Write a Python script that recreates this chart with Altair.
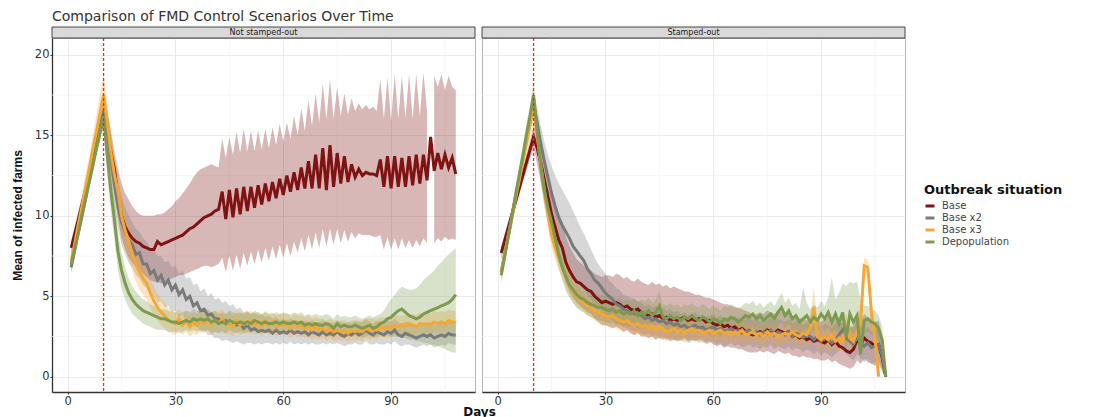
import altair as alt
import pandas as pd

SERIES = ["Base", "Base x2", "Base x3", "Depopulation"]
COLORS = ["#7f1212", "#7a7a7a", "#f5a733", "#7d9a4e"]
PANELS = ["Not stamped-out", "Stamped-out"]
X_TICKS = [0, 30, 60, 90]
X_MINOR = [15, 45, 75, 105]
Y_TICKS = [0, 5, 10, 15, 20]
Y_MINOR = [2.5, 7.5, 12.5, 17.5]
CUTOFF_DAY = [10]

# ---------------- Not stamped-out ----------------
red_L = [8.0, 8.9, 9.8, 10.7, 11.6, 12.5, 13.4, 14.4, 15.3, 16.3,
         15.2, 14.0, 12.9, 11.2, 10.0, 9.3, 8.9, 8.6, 8.4, 8.3,
         8.1, 8.0, 7.9, 7.9, 8.4, 8.2, 8.3, 8.4, 8.5, 8.6,
         8.7, 8.8, 9.0, 9.2, 9.3, 9.5, 9.7, 9.9, 10.0, 10.1,
         10.3, 10.4, 11.5, 9.8, 11.6, 9.9, 11.7, 10.1, 11.8, 10.3,
         11.8, 10.5, 11.9, 10.7, 12.0, 10.9, 12.1, 11.1, 12.3, 11.3,
         12.5, 11.5, 12.7, 11.6, 13.0, 11.7, 13.4, 11.7, 13.8, 11.7,
         14.2, 11.6, 14.4, 11.8, 13.9, 12.0, 13.7, 12.1, 13.2, 12.4,
         12.9, 12.5, 12.7, 12.6, 12.6, 12.5, 13.5, 11.8, 13.7, 11.7,
         13.7, 11.8, 13.6, 11.8, 13.7, 11.9, 13.8, 12.0, 13.8, 12.2,
         14.9, 12.8, 13.9, 12.9, 13.8, 13.0, 13.6, 12.6]
red_L_hi = [8.5, 9.4, 10.3, 11.2, 12.1, 13.0, 14.0, 15.0, 16.0, 17.0,
            16.5, 15.3, 14.0, 12.9, 12.0, 11.4, 11.0, 10.6, 10.3, 10.1,
            10.0, 10.0, 10.0, 10.0, 10.1, 10.1, 10.2, 10.4, 10.6, 10.9,
            11.1, 11.4, 11.7, 12.0, 12.4, 12.7, 12.9, 13.0, 13.1, 13.2,
            13.1, 13.0, 14.8, 13.6, 14.9, 13.8, 15.2, 13.9, 15.4, 14.0,
            15.3, 14.0, 15.3, 14.1, 15.4, 14.2, 15.5, 14.4, 15.7, 14.6,
            15.8, 14.8, 16.2, 15.0, 16.7, 15.3, 17.2, 15.6, 17.6, 15.8,
            18.2, 16.0, 18.5, 16.0, 18.0, 16.2, 17.6, 16.3, 17.3, 16.5,
            17.0, 16.6, 16.9, 16.6, 16.8, 16.5, 18.5, 16.0, 18.6, 15.9,
            18.8, 16.0, 18.7, 16.1, 18.8, 16.0, 18.8, 16.2, 18.9, 16.5,
            None, 18.7, 18.0, 18.8, 17.8, 18.7, 18.0, 17.8]
red_L_lo = [7.5, 8.4, 9.3, 10.2, 11.1, 12.0, 12.9, 13.8, 14.7, 15.6,
            14.0, 12.7, 11.5, 9.8, 8.6, 7.9, 7.4, 7.1, 6.8, 6.6,
            6.4, 6.2, 6.0, 5.9, 5.9, 5.8, 5.9, 6.0, 6.1, 6.2,
            6.3, 6.3, 6.4, 6.5, 6.6, 6.7, 6.8, 6.9, 6.9, 6.8,
            6.9, 7.0, 7.4, 6.5, 7.5, 6.6, 7.6, 6.7, 7.7, 6.9,
            7.8, 7.0, 7.9, 7.1, 8.0, 7.2, 8.1, 7.3, 8.2, 7.4,
            8.3, 7.5, 8.4, 7.7, 8.6, 7.8, 8.8, 7.9, 9.0, 8.0,
            9.2, 8.1, 9.2, 8.2, 9.2, 8.3, 9.1, 8.4, 9.0, 8.6,
            8.9, 8.8, 8.8, 8.8, 8.7, 8.7, 8.8, 7.9, 8.7, 7.9,
            8.6, 7.9, 8.6, 8.0, 8.5, 8.0, 8.5, 8.1, 8.6, 8.3,
            None, 8.3, 8.6, 8.4, 8.7, 8.5, 8.6, 8.5]

gray_L = [6.8, 7.9, 9.0, 10.0, 11.1, 12.2, 13.3, 14.3, 15.4, 16.5,
          15.3, 13.6, 12.0, 10.6, 9.6, 9.0, 8.5, 8.2, 7.6, 7.7,
          7.0, 7.0, 6.4, 6.6, 6.0, 6.3, 5.7, 6.0, 5.4, 5.7,
          5.1, 5.4, 4.8, 5.0, 4.4, 4.6, 4.1, 4.2, 3.8, 3.9,
          3.6, 3.6, 3.4, 3.5, 3.3, 3.3, 3.2, 3.3, 3.0, 3.2,
          2.9, 3.0, 2.8, 2.9, 2.8, 2.9, 2.7, 2.9, 2.7, 2.8,
          2.7, 2.9, 2.7, 2.8, 2.7, 2.8, 2.6, 2.8, 2.7, 2.6,
          2.8, 2.6, 2.7, 2.6, 2.8, 2.6, 2.5, 2.7, 2.6, 2.8,
          2.6, 2.7, 2.9, 2.7, 2.6, 2.8, 2.7, 2.6, 2.8, 2.7,
          2.9, 2.6, 2.5, 2.7, 2.6, 2.5, 2.4, 2.5, 2.6, 2.5,
          2.6, 2.4, 2.5, 2.6, 2.5, 2.7, 2.6, 2.6]
gray_L_hi = [7.2, 8.3, 9.4, 10.5, 11.6, 12.7, 13.8, 14.9, 16.0, 17.1,
             16.5, 15.0, 13.5, 12.2, 11.2, 10.5, 10.0, 9.6, 9.2, 9.0,
             8.6, 8.4, 8.0, 7.9, 7.5, 7.5, 7.1, 7.2, 6.8, 6.9,
             6.4, 6.6, 6.1, 6.2, 5.7, 5.8, 5.3, 5.5, 5.0, 5.2,
             4.8, 4.9, 4.6, 4.7, 4.4, 4.5, 4.2, 4.3, 4.0, 4.1,
             3.9, 4.0, 3.8, 3.9, 3.7, 3.8, 3.6, 3.7, 3.5, 3.6,
             3.5, 3.6, 3.5, 3.5, 3.4, 3.5, 3.4, 3.5, 3.4, 3.4,
             3.5, 3.4, 3.4, 3.3, 3.5, 3.4, 3.3, 3.4, 3.3, 3.5,
             3.4, 3.4, 3.6, 3.4, 3.3, 3.5, 3.4, 3.4, 3.5, 3.4,
             3.6, 3.4, 3.3, 3.4, 3.4, 3.3, 3.2, 3.3, 3.4, 3.3,
             3.4, 3.2, 3.3, 3.4, 3.3, 3.5, 3.4, 3.4]
gray_L_lo = [6.4, 7.5, 8.6, 9.5, 10.6, 11.7, 12.8, 13.7, 14.8, 15.9,
             14.0, 12.2, 10.6, 9.2, 8.2, 7.6, 7.1, 6.8, 6.3, 6.1,
             5.7, 5.5, 5.0, 5.0, 4.6, 4.7, 4.3, 4.4, 4.0, 4.1,
             3.7, 3.9, 3.4, 3.6, 3.1, 3.2, 2.8, 2.9, 2.6, 2.6,
             2.4, 2.4, 2.2, 2.3, 2.2, 2.1, 2.2, 2.1, 2.0, 2.1,
             2.1, 2.0, 2.1, 2.0, 2.1, 2.1, 2.0, 2.1, 2.0, 2.1,
             2.0, 2.2, 2.0, 2.1, 2.0, 2.1, 2.0, 2.1, 2.0, 2.0,
             2.1, 2.0, 2.1, 2.0, 2.1, 2.0, 1.9, 2.0, 2.0, 2.1,
             2.0, 2.0, 2.2, 2.0, 2.0, 2.1, 2.0, 2.0, 2.1, 2.0,
             2.2, 2.0, 1.9, 2.0, 2.0, 1.9, 1.8, 1.9, 2.0, 1.9,
             2.0, 1.8, 1.9, 2.0, 1.9, 2.1, 2.0, 2.0]

yel_L = [7.2, 8.3, 9.5, 10.6, 11.8, 12.9, 14.1, 15.2, 16.4, 17.5,
         15.8, 14.0, 12.6, 11.5, 10.0, 9.1, 8.4, 7.6, 7.0, 6.5,
         6.1, 5.8, 5.2, 4.7, 4.3, 4.0, 3.8, 3.5, 3.4, 3.3,
         3.6, 3.2, 3.5, 3.1, 3.4, 3.2, 3.5, 3.3, 3.6, 3.2,
         3.5, 3.3, 3.6, 3.2, 3.4, 3.1, 3.5, 3.2, 3.4, 3.3,
         3.5, 3.2, 3.4, 3.1, 3.5, 3.2, 3.4, 3.1, 3.3, 3.2,
         3.4, 3.0, 3.3, 3.1, 3.2, 3.0, 3.2, 2.9, 3.1, 2.9,
         3.0, 2.8, 3.0, 2.8, 2.9, 2.8, 2.9, 2.7, 2.9, 2.8,
         2.9, 2.8, 3.0, 2.9, 3.0, 2.9, 3.1, 3.0, 3.1, 3.0,
         3.2, 3.1, 3.2, 3.1, 3.3, 3.2, 3.1, 3.3, 3.2, 3.3,
         3.2, 3.4, 3.3, 3.4, 3.3, 3.5, 3.4, 3.4]
yel_L_hi = [7.8, 9.0, 10.2, 11.4, 12.6, 13.8, 15.0, 16.3, 17.6, 18.8,
            17.0, 15.3, 13.8, 12.6, 11.2, 10.2, 9.5, 8.7, 8.0, 7.5,
            7.0, 6.7, 6.1, 5.6, 5.2, 4.8, 4.6, 4.3, 4.1, 4.0,
            4.2, 3.9, 4.1, 3.8, 4.0, 3.9, 4.1, 4.0, 4.2, 3.9,
            4.1, 4.0, 4.2, 3.9, 4.0, 3.8, 4.1, 3.9, 4.0, 4.0,
            4.1, 3.9, 4.0, 3.8, 4.1, 3.9, 4.0, 3.8, 3.9, 3.9,
            4.0, 3.7, 3.9, 3.8, 3.8, 3.7, 3.8, 3.6, 3.7, 3.6,
            3.6, 3.5, 3.6, 3.5, 3.5, 3.5, 3.5, 3.4, 3.5, 3.5,
            3.5, 3.5, 3.6, 3.6, 3.6, 3.6, 3.7, 3.7, 3.7, 3.7,
            3.8, 3.8, 3.8, 3.8, 3.9, 3.9, 3.8, 4.0, 3.9, 4.0,
            3.9, 4.1, 4.0, 4.1, 4.0, 4.2, 4.1, 4.1]
yel_L_lo = [6.6, 7.6, 8.8, 9.8, 11.0, 12.0, 13.2, 14.2, 15.1, 16.0,
            14.5, 12.7, 11.3, 10.2, 8.8, 7.9, 7.2, 6.5, 5.9, 5.4,
            5.1, 4.8, 4.3, 3.8, 3.5, 3.2, 3.0, 2.8, 2.7, 2.6,
            2.9, 2.6, 2.8, 2.5, 2.7, 2.6, 2.8, 2.7, 2.9, 2.6,
            2.8, 2.7, 2.9, 2.6, 2.7, 2.5, 2.8, 2.6, 2.7, 2.7,
            2.8, 2.6, 2.7, 2.5, 2.8, 2.6, 2.7, 2.5, 2.6, 2.6,
            2.7, 2.4, 2.6, 2.5, 2.5, 2.4, 2.5, 2.3, 2.4, 2.3,
            2.4, 2.2, 2.4, 2.2, 2.3, 2.2, 2.3, 2.1, 2.3, 2.2,
            2.3, 2.2, 2.4, 2.3, 2.4, 2.3, 2.5, 2.4, 2.5, 2.4,
            2.6, 2.5, 2.6, 2.5, 2.7, 2.6, 2.5, 2.7, 2.6, 2.7,
            2.6, 2.8, 2.7, 2.8, 2.7, 2.9, 2.8, 2.8]

grn_L = [7.0, 8.0, 9.0, 10.1, 11.1, 12.1, 13.1, 14.2, 15.2, 16.2,
         13.8, 11.6, 9.8, 7.8, 6.6, 5.8, 5.2, 4.8, 4.5, 4.3,
         4.1, 4.0, 3.9, 3.8, 3.7, 3.6, 3.6, 3.5, 3.4, 3.4,
         3.3, 3.4, 3.5, 3.4, 3.6, 3.5, 3.6, 3.5, 3.6, 3.4,
         3.5, 3.3, 3.4, 3.3, 3.5, 3.4, 3.3, 3.4, 3.3, 3.4,
         3.3, 3.5, 3.4, 3.3, 3.4, 3.3, 3.3, 3.4, 3.3, 3.4,
         3.3, 3.3, 3.4, 3.3, 3.4, 3.2, 3.3, 3.2, 3.3, 3.2,
         3.2, 3.3, 3.2, 3.0, 3.3, 3.1, 3.2, 3.1, 3.1, 3.2,
         3.1, 3.0, 3.1, 3.2, 3.0, 3.1, 3.3, 3.4, 3.6, 3.7,
         3.9, 4.1, 4.2, 4.0, 3.8, 3.7, 3.6, 3.7, 3.9, 4.0,
         4.1, 4.2, 4.3, 4.4, 4.5, 4.6, 4.8, 5.1]
grn_L_hi = [7.5, 8.5, 9.5, 10.6, 11.6, 12.6, 13.6, 14.7, 15.8, 16.8,
            15.0, 13.0, 11.2, 9.0, 7.7, 6.8, 6.1, 5.6, 5.3, 5.0,
            4.8, 4.7, 4.5, 4.4, 4.3, 4.2, 4.2, 4.1, 4.0, 4.0,
            3.9, 4.0, 4.1, 4.0, 4.2, 4.1, 4.2, 4.1, 4.2, 4.0,
            4.1, 3.9, 4.0, 3.9, 4.1, 4.0, 3.9, 4.0, 3.9, 4.0,
            3.9, 4.1, 4.0, 3.9, 4.0, 3.9, 3.9, 4.0, 3.9, 4.0,
            3.9, 3.9, 4.0, 3.9, 4.0, 3.8, 3.9, 3.8, 3.9, 3.8,
            3.8, 3.9, 3.8, 3.6, 3.9, 3.7, 3.8, 3.7, 3.7, 3.8,
            3.7, 3.6, 3.7, 3.8, 3.7, 3.8, 3.9, 4.1, 4.5, 4.8,
            5.1, 5.4, 5.6, 5.5, 5.4, 5.4, 5.5, 5.7, 6.0, 6.2,
            6.4, 6.6, 6.9, 7.1, 7.4, 7.6, 7.8, 8.0]
grn_L_lo = [6.5, 7.5, 8.5, 9.6, 10.6, 11.6, 12.6, 13.7, 14.6, 15.5,
            12.5, 10.3, 8.5, 6.6, 5.5, 4.8, 4.3, 3.9, 3.7, 3.5,
            3.3, 3.2, 3.1, 3.0, 2.9, 2.9, 2.9, 2.8, 2.8, 2.8,
            2.7, 2.8, 2.9, 2.8, 2.9, 2.8, 2.9, 2.8, 2.9, 2.7,
            2.8, 2.7, 2.8, 2.7, 2.9, 2.8, 2.7, 2.8, 2.7, 2.8,
            2.7, 2.9, 2.8, 2.7, 2.8, 2.7, 2.7, 2.8, 2.7, 2.8,
            2.7, 2.7, 2.8, 2.7, 2.8, 2.6, 2.7, 2.6, 2.7, 2.6,
            2.6, 2.7, 2.6, 2.4, 2.7, 2.5, 2.6, 2.5, 2.5, 2.6,
            2.5, 2.4, 2.5, 2.6, 2.4, 2.5, 2.6, 2.6, 2.6, 2.5,
            2.5, 2.5, 2.4, 2.4, 2.3, 2.3, 2.2, 2.2, 2.1, 2.1,
            2.0, 2.0, 1.9, 1.8, 1.7, 1.6, 1.5, 1.5]

# ---------------- Stamped-out ----------------
red_R = [7.7, 8.5, 9.3, 10.1, 10.9, 11.7, 12.5, 13.3, 14.1, 14.9,
         14.2, 13.3, 12.2, 11.2, 10.1, 9.3, 8.5, 8.0, 7.1, 6.6,
         6.2, 5.9, 5.8, 5.6, 5.4, 5.3, 5.0, 4.8, 4.6, 4.7,
         4.6, 4.5, 4.6, 4.5, 4.3, 4.4, 4.2, 4.1, 4.2, 4.0,
         3.9, 3.8, 3.9, 3.7, 3.8, 3.6, 3.7, 3.5, 3.6, 3.5,
         3.6, 3.7, 3.5, 3.6, 3.5, 3.6, 3.6, 3.4, 3.5, 3.3,
         3.2, 3.3, 3.1, 3.2, 3.0, 3.1, 2.9, 3.0, 2.8, 2.7,
         2.6, 2.7, 2.8, 2.7, 2.9, 2.8, 2.7, 2.9, 2.8, 2.7,
         2.8, 2.5, 2.6, 2.4, 2.5, 2.3, 2.4, 2.2, 2.3, 2.2,
         2.1, 2.3, 2.0, 2.2, 1.9, 1.8, 1.6, 1.5, 1.7, 2.3,
         2.0, 2.4, 2.2, 2.1, 1.9, 2.0, 1.2, 0.0]
red_R_hi = [8.1, 8.9, 9.7, 10.5, 11.3, 12.1, 12.9, 13.8, 14.7, 15.6,
            15.2, 14.5, 13.6, 12.7, 11.7, 10.9, 10.1, 9.5, 8.7, 8.1,
            7.7, 7.3, 7.1, 6.9, 6.7, 6.6, 6.4, 6.3, 6.2, 6.3,
            6.3, 6.2, 6.4, 6.3, 6.1, 6.2, 6.0, 5.9, 6.1, 5.9,
            5.8, 5.7, 5.9, 5.7, 5.8, 5.6, 5.7, 5.5, 5.6, 5.5,
            5.4, 5.3, 5.3, 5.2, 5.1, 5.1, 5.0, 4.9, 4.9, 4.8,
            4.7, 4.6, 4.5, 4.5, 4.4, 4.3, 4.3, 4.2, 4.1, 4.0,
            3.8, 3.9, 4.0, 3.9, 4.1, 4.0, 3.9, 4.1, 4.0, 3.9,
            4.0, 3.7, 3.8, 3.6, 3.7, 3.5, 3.6, 3.4, 3.5, 3.4,
            3.6, 3.8, 3.5, 3.7, 3.4, 3.3, 3.1, 3.0, 3.2, 3.8,
            3.5, 3.9, 3.7, 3.6, 3.4, 3.5, 2.5, 0.6]
red_R_lo = [7.3, 8.1, 8.9, 9.7, 10.5, 11.3, 12.1, 12.8, 13.5, 14.2,
            13.2, 12.1, 10.9, 9.8, 8.7, 7.9, 7.1, 6.6, 5.8, 5.3,
            4.9, 4.6, 4.4, 4.2, 4.0, 3.9, 3.6, 3.4, 3.2, 3.2,
            3.1, 3.0, 3.1, 3.0, 2.8, 2.9, 2.7, 2.6, 2.7, 2.5,
            2.5, 2.4, 2.5, 2.3, 2.4, 2.3, 2.4, 2.2, 2.3, 2.2,
            2.3, 2.4, 2.2, 2.3, 2.2, 2.3, 2.3, 2.1, 2.2, 2.0,
            1.9, 2.0, 1.8, 1.9, 1.8, 1.8, 1.7, 1.7, 1.6, 1.5,
            1.5, 1.5, 1.6, 1.5, 1.6, 1.5, 1.4, 1.6, 1.5, 1.4,
            1.5, 1.3, 1.3, 1.2, 1.3, 1.2, 1.2, 1.1, 1.1, 1.0,
            1.0, 1.1, 0.9, 1.0, 0.8, 0.7, 0.6, 0.5, 0.6, 1.0,
            0.8, 1.1, 0.9, 0.8, 0.7, 0.8, 0.3, 0.0]

gray_R = [6.5, 7.7, 8.8, 10.0, 11.2, 12.3, 13.5, 14.7, 15.8, 17.0,
          15.8, 14.5, 13.4, 12.4, 11.4, 10.6, 9.9, 9.4, 9.0, 8.6,
          8.1, 7.8, 7.5, 7.2, 6.7, 6.4, 6.0, 5.8, 5.5, 5.2,
          5.0, 4.8, 4.5, 4.4, 4.2, 4.1, 4.0, 3.9, 3.9, 3.8,
          3.6, 3.7, 3.5, 3.6, 3.4, 3.5, 3.3, 3.4, 3.2, 3.3,
          3.1, 3.2, 3.0, 3.1, 3.2, 3.0, 3.1, 2.9, 3.0, 3.1,
          2.9, 3.0, 2.8, 2.9, 3.0, 2.8, 2.9, 2.7, 2.8, 2.9,
          2.7, 2.8, 2.6, 2.8, 2.7, 2.9, 2.6, 2.8, 2.7, 2.6,
          2.8, 2.5, 2.7, 2.6, 2.4, 2.6, 2.5, 2.3, 2.5, 2.2,
          2.4, 2.3, 2.1, 2.3, 2.6, 2.9, 2.4, 2.2, 2.0, 2.4,
          2.2, 1.9, 2.1, 1.8, 1.9, 2.0, 1.3, 0.0]
gray_R_hi = [6.9, 8.1, 9.3, 10.5, 11.7, 12.9, 14.1, 15.3, 16.5, 17.7,
             16.8, 15.6, 14.6, 13.8, 13.1, 12.5, 12.0, 11.6, 11.2, 10.8,
             10.3, 9.8, 9.3, 8.9, 8.4, 7.9, 7.4, 7.0, 6.7, 6.4,
             6.0, 5.8, 5.5, 5.4, 5.1, 5.0, 4.9, 4.8, 4.7, 4.6,
             4.4, 4.5, 4.3, 4.4, 4.2, 4.3, 4.1, 4.2, 4.0, 4.1,
             3.9, 4.0, 3.8, 3.9, 4.0, 3.8, 3.9, 3.7, 3.8, 3.9,
             3.7, 3.8, 3.6, 3.7, 3.8, 3.6, 3.7, 3.5, 3.6, 3.7,
             3.5, 3.6, 3.4, 3.6, 3.5, 3.7, 3.4, 3.6, 3.5, 3.4,
             3.6, 3.3, 3.5, 3.4, 3.2, 3.4, 3.3, 3.1, 3.3, 3.0,
             3.3, 3.2, 3.0, 3.3, 3.7, 4.0, 3.4, 3.2, 3.0, 3.4,
             3.2, 2.9, 3.1, 2.8, 2.9, 3.0, 2.0, 0.4]
gray_R_lo = [6.1, 7.3, 8.3, 9.5, 10.7, 11.7, 12.9, 14.1, 15.1, 16.3,
             14.8, 13.4, 12.2, 11.0, 9.9, 9.1, 8.3, 7.8, 7.4, 6.9,
             6.4, 6.1, 5.8, 5.5, 5.1, 4.8, 4.5, 4.3, 4.1, 3.9,
             3.7, 3.5, 3.3, 3.2, 3.1, 3.0, 2.9, 2.8, 2.8, 2.7,
             2.6, 2.7, 2.5, 2.6, 2.4, 2.5, 2.3, 2.4, 2.3, 2.3,
             2.2, 2.3, 2.1, 2.2, 2.3, 2.1, 2.2, 2.0, 2.1, 2.2,
             2.0, 2.1, 1.9, 2.0, 2.1, 1.9, 2.0, 1.8, 1.9, 2.0,
             1.8, 1.9, 1.7, 1.9, 1.8, 2.0, 1.7, 1.9, 1.8, 1.7,
             1.9, 1.6, 1.8, 1.7, 1.5, 1.7, 1.6, 1.4, 1.6, 1.3,
             1.5, 1.4, 1.2, 1.4, 1.6, 1.9, 1.4, 1.2, 1.0, 1.4,
             1.2, 0.9, 1.1, 0.8, 0.9, 1.0, 0.5, 0.0]

yel_R = [6.5, 7.6, 8.8, 9.9, 11.1, 12.2, 13.4, 14.5, 15.7, 16.8,
         15.0, 13.2, 11.6, 10.1, 8.8, 8.0, 7.4, 6.8, 6.2, 5.7,
         5.3, 5.0, 4.8, 4.6, 4.4, 4.3, 4.1, 4.0, 3.9, 3.8,
         3.7, 3.8, 3.6, 3.5, 3.4, 3.5, 3.3, 3.2, 3.3, 3.1,
         3.2, 3.0, 3.2, 2.9, 3.1, 3.0, 2.8, 2.9, 3.0, 2.8,
         2.9, 2.7, 2.9, 3.0, 2.8, 2.9, 2.7, 2.8, 2.9, 2.7,
         2.8, 2.9, 2.7, 2.8, 2.6, 2.8, 2.7, 2.9, 2.6, 2.7,
         2.8, 2.6, 2.7, 2.5, 2.8, 2.6, 2.7, 2.5, 2.6, 2.7,
         2.6, 2.8, 2.6, 2.5, 2.7, 2.6, 3.0, 4.3, 2.5, 2.3,
         2.5, 2.3, 2.6, 2.2, 2.4, 2.2, 3.0, 2.4, 2.2, 2.8,
         3.4, 6.9, 6.8, 4.0, 2.4, 0.0]
yel_R_hi = [6.9, 8.1, 9.3, 10.5, 11.7, 12.9, 14.1, 15.3, 16.5, 17.7,
            16.0, 14.2, 12.5, 11.0, 9.6, 8.7, 8.1, 7.5, 6.9, 6.4,
            6.0, 5.7, 5.4, 5.2, 5.0, 4.9, 4.7, 4.6, 4.5, 4.4,
            4.3, 4.4, 4.2, 4.1, 4.0, 4.1, 3.9, 3.8, 3.9, 3.7,
            3.8, 3.6, 3.8, 3.5, 3.7, 3.6, 3.4, 3.5, 3.6, 3.4,
            3.5, 3.3, 3.5, 3.6, 3.4, 3.5, 3.3, 3.4, 3.5, 3.3,
            3.4, 3.5, 3.3, 3.4, 3.2, 3.4, 3.3, 3.5, 3.2, 3.3,
            3.4, 3.2, 3.3, 3.1, 3.4, 3.2, 3.3, 3.1, 3.2, 3.3,
            3.2, 3.4, 3.2, 3.1, 3.3, 3.3, 3.9, 5.6, 3.2, 3.0,
            3.2, 3.0, 3.3, 2.9, 3.1, 2.9, 3.9, 3.1, 2.9, 3.6,
            4.3, 7.4, 7.3, 4.8, 3.0, 0.3]
yel_R_lo = [6.1, 7.1, 8.3, 9.3, 10.5, 11.5, 12.7, 13.7, 14.9, 15.9,
            14.0, 12.2, 10.7, 9.2, 8.0, 7.3, 6.7, 6.1, 5.5, 5.0,
            4.6, 4.3, 4.2, 4.0, 3.8, 3.7, 3.5, 3.4, 3.3, 3.2,
            3.1, 3.2, 3.0, 2.9, 2.8, 2.9, 2.7, 2.6, 2.7, 2.5,
            2.6, 2.4, 2.6, 2.3, 2.5, 2.4, 2.2, 2.3, 2.4, 2.2,
            2.3, 2.1, 2.3, 2.4, 2.2, 2.3, 2.1, 2.2, 2.3, 2.1,
            2.2, 2.3, 2.1, 2.2, 2.0, 2.2, 2.1, 2.3, 2.0, 2.1,
            2.2, 2.0, 2.1, 1.9, 2.2, 2.0, 2.1, 1.9, 2.0, 2.1,
            2.0, 2.2, 2.0, 1.9, 2.1, 1.9, 2.1, 3.0, 1.8, 1.6,
            1.8, 1.6, 1.9, 1.5, 1.7, 1.5, 2.1, 1.7, 1.5, 2.0,
            2.5, 6.4, 6.3, 3.2, 1.8, 0.0]

grn_R = [6.3, 7.5, 8.8, 10.0, 11.3, 12.5, 13.7, 15.0, 16.2, 17.5,
         15.2, 13.1, 11.6, 10.5, 9.6, 8.6, 7.6, 6.8, 6.2, 5.7,
         5.4, 5.1, 4.9, 4.8, 4.6, 4.5, 4.4, 4.3, 4.3, 4.2,
         4.1, 4.2, 4.0, 4.1, 3.9, 4.0, 3.9, 4.1, 3.8, 4.0,
         3.9, 4.1, 3.8, 4.0, 4.4, 3.7, 3.6, 3.8, 3.6, 3.7,
         3.5, 3.7, 3.6, 3.8, 3.6, 3.5, 3.7, 3.6, 3.4, 3.6,
         3.5, 3.3, 3.6, 3.5, 3.7, 3.6, 3.4, 3.6, 3.8, 3.7,
         3.9, 3.6, 3.8, 3.5, 3.7, 3.9, 3.6, 4.0, 4.3, 3.8,
         4.1, 3.6, 3.8, 3.4, 3.6, 3.8, 3.4, 3.7, 3.5, 3.9,
         3.6, 4.0, 3.4, 3.9, 3.3, 4.0, 2.4, 3.9, 3.4, 3.8,
         1.4, 3.5, 3.6, 3.4, 3.3, 3.0, 2.3, 0.0]
grn_R_hi = [6.8, 8.0, 9.3, 10.6, 11.9, 13.1, 14.4, 15.7, 16.9, 18.2,
            16.2, 14.1, 12.6, 11.5, 10.5, 9.5, 8.5, 7.7, 7.1, 6.6,
            6.2, 5.9, 5.7, 5.6, 5.4, 5.3, 5.2, 5.1, 5.1, 5.0,
            4.9, 5.0, 4.8, 4.9, 4.7, 4.8, 4.7, 4.9, 4.6, 4.8,
            4.7, 4.9, 4.6, 4.8, 5.3, 4.5, 4.4, 4.6, 4.4, 4.5,
            4.3, 4.5, 4.4, 4.6, 4.4, 4.3, 4.5, 4.4, 4.2, 4.4,
            4.3, 4.1, 4.4, 4.3, 4.5, 4.4, 4.2, 4.4, 4.6, 4.5,
            4.7, 4.4, 4.6, 4.3, 4.5, 4.7, 4.4, 4.8, 5.2, 4.6,
            4.9, 4.4, 4.6, 4.2, 5.6, 4.6, 4.2, 4.5, 4.3, 4.7,
            4.4, 4.9, 6.2, 4.8, 5.2, 5.8, 5.6, 5.9, 5.8, 5.9,
            4.8, 4.4, 4.4, 4.2, 4.1, 3.8, 3.1, 0.5]
grn_R_lo = [5.8, 7.0, 8.3, 9.4, 10.7, 11.9, 13.0, 14.3, 15.5, 16.8,
            14.2, 12.1, 10.6, 9.5, 8.7, 7.7, 6.7, 6.0, 5.3, 4.9,
            4.6, 4.3, 4.1, 4.0, 3.8, 3.7, 3.6, 3.5, 3.5, 3.4,
            3.3, 3.4, 3.2, 3.3, 3.1, 3.2, 3.1, 3.3, 3.0, 3.2,
            3.1, 3.3, 3.0, 3.2, 3.5, 2.9, 2.8, 3.0, 2.8, 2.9,
            2.7, 2.9, 2.8, 3.0, 2.8, 2.7, 2.9, 2.8, 2.6, 2.8,
            2.7, 2.5, 2.8, 2.7, 2.9, 2.8, 2.6, 2.8, 3.0, 2.9,
            3.1, 2.8, 3.0, 2.7, 2.9, 3.1, 2.8, 3.2, 3.4, 3.0,
            3.3, 2.8, 3.0, 2.6, 2.8, 3.0, 2.6, 2.9, 2.7, 3.1,
            2.8, 3.1, 2.6, 3.0, 2.4, 3.1, 1.6, 3.0, 2.6, 2.9,
            0.8, 2.7, 2.8, 2.6, 2.5, 2.2, 1.5, 0.0]

DATA = {
    "Not stamped-out": {
        "Base": (red_L, red_L_lo, red_L_hi),
        "Base x2": (gray_L, gray_L_lo, gray_L_hi),
        "Base x3": (yel_L, yel_L_lo, yel_L_hi),
        "Depopulation": (grn_L, grn_L_lo, grn_L_hi),
    },
    "Stamped-out": {
        "Base": (red_R, red_R_lo, red_R_hi),
        "Base x2": (gray_R, gray_R_lo, gray_R_hi),
        "Base x3": (yel_R, yel_R_lo, yel_R_hi),
        "Depopulation": (grn_R, grn_R_lo, grn_R_hi),
    },
}
COLOR_OF = dict(zip(SERIES, COLORS))

rows = []
for panel, block in DATA.items():
    for s in SERIES:
        mean, lo, hi = block[s]
        seg = 0
        for i, m in enumerate(mean):
            l, h = lo[i], hi[i]
            if l is None or h is None:
                seg += 1
            rows.append({"panel": panel, "series": s, "day": i + 1, "mean": m,
                         "lo": l, "hi": h, "grp": f"{s}-{seg}", "col": COLOR_OF[s]})
df = pd.DataFrame(rows)

W, H = 423, 354
XS = alt.Scale(domain=[-4.35, 113.35], nice=False, zero=False)
YS = alt.Scale(domain=[-0.95, 21.05], nice=False, zero=False)
CS = alt.Scale(domain=SERIES, range=COLORS)
LEG = alt.Legend(title="Outbreak situation", orient="none", legendX=872, legendY=146)


def make_panel(pname, first):
    d = df[df.panel == pname]
    bands = d.dropna(subset=["lo", "hi"])
    if first:
        xa = alt.Axis(values=X_TICKS, title="Days", titleX=427, titleAlign="center",
                      titleFontWeight="bold", titleFontSize=12, titlePadding=0,
                      titleFont="DejaVu Sans", titleColor="#111")
        ya = alt.Axis(values=Y_TICKS, title="Mean of infected farms",
                      titleFont="Liberation Sans Narrow, Liberation Sans", titleFontSize=12,
                      titleFontWeight="bold", titlePadding=10, titleColor="#111")
    else:
        xa = alt.Axis(values=X_TICKS, title=None)
        ya = alt.Axis(values=Y_TICKS, labels=False, ticks=False, domain=False, title=None)
    x = alt.X("day:Q", scale=XS, axis=xa)
    minor_x = alt.Chart(pd.DataFrame({"day": X_MINOR})).mark_rule(
        stroke="#f2f2f2", strokeWidth=0.7).encode(x=x)
    minor_y = alt.Chart(pd.DataFrame({"mean": Y_MINOR})).mark_rule(
        stroke="#f2f2f2", strokeWidth=0.7).encode(y=alt.Y("mean:Q", scale=YS, axis=ya))
    band = alt.Chart(bands).mark_area(opacity=0.3).encode(
        x=x,
        y=alt.Y("lo:Q", scale=YS, axis=ya),
        y2="hi:Q",
        fill=alt.Fill("col:N", scale=None),
        detail="grp:N",
    )
    lines = alt.Chart(d).mark_line(strokeWidth=3).encode(
        x=x,
        y=alt.Y("mean:Q", scale=YS, axis=ya),
        color=alt.Color("series:N", scale=CS, legend=LEG),
        order="day:Q",
    )
    cut = alt.Chart(pd.DataFrame({"cday": CUTOFF_DAY})).mark_rule(
        color="#ff1f2a", stroke="#ff1f2a", strokeDash=[3, 2], strokeWidth=1.3).encode(
        x=alt.X("cday:Q", scale=XS, axis=xa), y=alt.value(0), y2=alt.value(H))
    strip_df = pd.DataFrame({"panel": [pname]})
    strip_rect = alt.Chart(strip_df).mark_rect(
        fill="#d9d9d9", stroke="#333333", strokeWidth=0.9, clip=False).encode(
        x=alt.value(0), x2=alt.value(W), y=alt.value(-11), y2=alt.value(0))
    strip_text = alt.Chart(strip_df).mark_text(
        font="DejaVu Sans", fontSize=8, color="#1a1a1a", clip=False, baseline="middle").encode(
        x=alt.value(W / 2), y=alt.value(-5.5), text="panel:N")
    return alt.layer(minor_x, minor_y, band, lines, cut, strip_rect, strip_text).properties(
        width=W, height=H)


left = make_panel(PANELS[0], True)
right = make_panel(PANELS[1], False)

chart = alt.hconcat(left, right, spacing=7, bounds="flush").properties(
    title=alt.TitleParams("Comparison of FMD Control Scenarios Over Time", anchor="start",
                          font="DejaVu Sans", fontSize=14, fontWeight="normal",
                          color="#333333", offset=2, frame="group"),
    padding={"left": 2, "top": 2, "right": 5, "bottom": 0},
).configure_view(
    stroke="#b5b5b5", strokeWidth=1
).configure_axis(
    labelFont="DejaVu Sans", labelFontSize=11.5, labelColor="#333333",
    gridColor="#e6e6e6", gridWidth=0.8,
    domainColor="#333333", domainWidth=1.3,
    tickColor="#333333", tickSize=2, labelPadding=1,
).configure_legend(
    titleFont="DejaVu Sans", titleFontSize=13, titleFontWeight="bold", titleColor="#111",
    labelFont="DejaVu Sans", labelFontSize=10, labelColor="#444444",
    symbolType="stroke", symbolStrokeWidth=3, symbolSize=80, rowPadding=0,
    titlePadding=3, labelOffset=6,
)

chart.save("out.html", embed_options={"renderer": "svg", "actions": False})
